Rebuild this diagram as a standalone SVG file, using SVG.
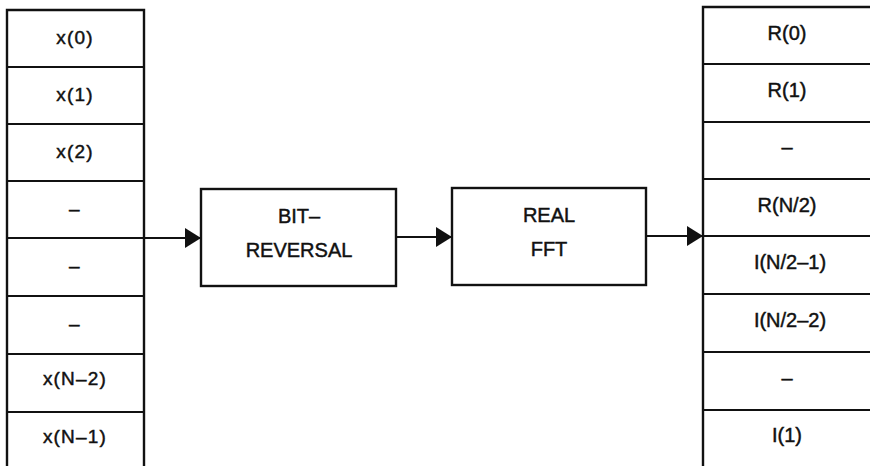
<svg xmlns="http://www.w3.org/2000/svg" width="870" height="466" viewBox="0 0 870 466">
<style>
.t{font-family:"Liberation Sans",Arial,sans-serif;fill:#111;stroke:#111;stroke-width:0.45;text-anchor:middle}
.l{font-size:19px;letter-spacing:1.2px}
.r{font-size:20px}
.m{font-size:20px}
.b{fill:none;stroke:#111;stroke-width:2.4}
.d{stroke:#111;stroke-width:1.8}
.c{stroke:#111;stroke-width:1.8;fill:none}
</style>
<defs>
<marker id="ah" markerWidth="16" markerHeight="20" refX="16" refY="10" orient="auto" markerUnits="userSpaceOnUse">
<path d="M0,0 L16,10 L0,20 Z" fill="#111"/>
</marker>
</defs>
<rect width="870" height="466" fill="#fff"/>
<g id="input">
<path class="b" d="M7,466 V10 H144 V466"/>
<line class="d" x1="7" y1="67" x2="144" y2="67"/>
<line class="d" x1="7" y1="124" x2="144" y2="124"/>
<line class="d" x1="7" y1="181" x2="144" y2="181"/>
<line class="d" x1="7" y1="238" x2="144" y2="238"/>
<line class="d" x1="7" y1="296" x2="144" y2="296"/>
<line class="d" x1="7" y1="354" x2="144" y2="354"/>
<line class="d" x1="7" y1="412" x2="144" y2="412"/>
<text class="t l" x="75" y="44">x(0)</text>
<text class="t l" x="75" y="101">x(1)</text>
<text class="t l" x="75" y="158">x(2)</text>
<text class="t l" x="75" y="215">–</text>
<text class="t l" x="75" y="272">–</text>
<text class="t l" x="75" y="330">–</text>
<text class="t l" x="75" y="385">x(N–2)</text>
<text class="t l" x="75" y="443">x(N–1)</text>
</g>
<g id="bitrev">
<rect class="b" x="201" y="189" width="195" height="97"/>
<text class="t m" x="299" y="223">BIT–</text>
<text class="t m" x="299" y="257">REVERSAL</text>
</g>
<g id="fft">
<rect class="b" x="452" y="188" width="194" height="97"/>
<text class="t m" x="549" y="222">REAL</text>
<text class="t m" x="549" y="256">FFT</text>
</g>
<g id="output">
<path class="b" d="M703,466 V7 H872"/>
<line class="d" x1="703" y1="64" x2="870" y2="64"/>
<line class="d" x1="703" y1="122" x2="870" y2="122"/>
<line class="d" x1="703" y1="179" x2="870" y2="179"/>
<line class="d" x1="703" y1="236" x2="870" y2="236"/>
<line class="d" x1="703" y1="294" x2="870" y2="294"/>
<line class="d" x1="703" y1="352" x2="870" y2="352"/>
<line class="d" x1="703" y1="410" x2="870" y2="410"/>
<text class="t r" x="787" y="40">R(0)</text>
<text class="t r" x="787" y="97">R(1)</text>
<text class="t r" x="787" y="154">–</text>
<text class="t r" x="787" y="212">R(N/2)</text>
<text class="t r" x="790" y="269">I(N/2–1)</text>
<text class="t r" x="790" y="327">I(N/2–2)</text>
<text class="t r" x="787" y="385">–</text>
<text class="t r" x="787" y="442">I(1)</text>
</g>
<g id="connectors">
<line class="c" x1="144" y1="238" x2="201" y2="238" marker-end="url(#ah)"/>
<line class="c" x1="396" y1="237" x2="452" y2="237" marker-end="url(#ah)"/>
<line class="c" x1="646" y1="236" x2="703" y2="236" marker-end="url(#ah)"/>
</g>
</svg>
